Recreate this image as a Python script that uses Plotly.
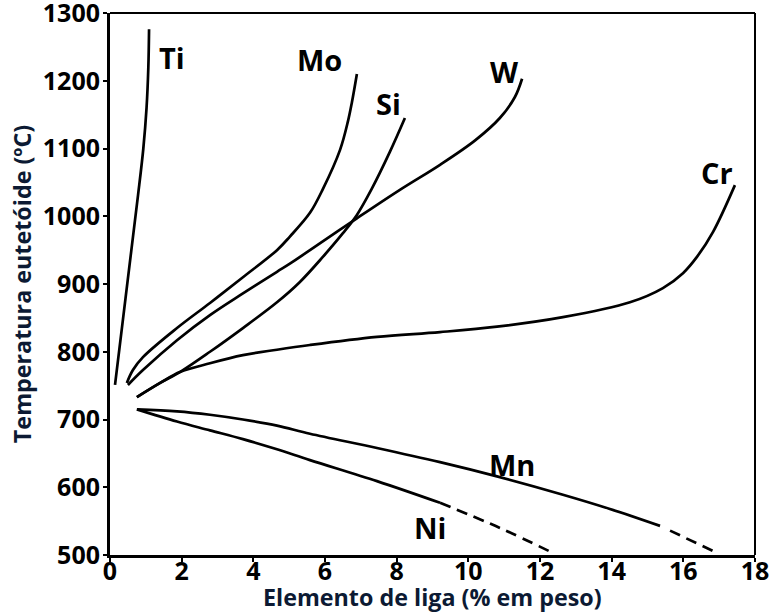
import plotly.graph_objects as go

# ---- data ----
ti_x = [0.14, 0.36, 0.58, 0.78, 0.93, 1.02, 1.07, 1.09]
ti_y = [751, 847, 943, 1030, 1100, 1160, 1220, 1276]

mo_x = [0.47, 0.64, 0.92, 1.87, 2.79, 3.71, 4.66, 5.02, 5.58, 5.94, 6.42, 6.64, 6.75, 6.89]
mo_y = [754, 773, 792, 835, 872, 910, 950, 970, 1005, 1040, 1098, 1140, 1168, 1210]

w_x = [0.50, 0.92, 1.87, 2.79, 3.71, 4.66, 5.02, 5.58, 6.89, 8.09, 9.21, 10.19, 10.88, 11.30, 11.50]
w_y = [751, 773, 817, 854, 886, 918, 930, 950, 997, 1039, 1076, 1112, 1145, 1176, 1203]

si_x = [0.75, 1.40, 1.95, 2.79, 3.71, 4.66, 5.30, 5.94, 6.50, 6.89, 7.30, 7.81, 8.23]
si_y = [733, 754, 770, 800, 835, 873, 903, 940, 975, 1002, 1040, 1095, 1145]

cr_x = [0.75, 1.40, 1.95, 2.79, 3.71, 4.66, 5.58, 7.45, 9.21, 10.80, 12.64, 14.51, 15.43, 15.99, 16.38, 16.83, 17.44]
cr_y = [733, 754, 770, 783, 795, 803, 810, 822, 829, 837, 851, 873, 894, 916, 940, 977, 1046]

mn_x = [0.75, 1.87, 2.79, 3.71, 4.66, 5.58, 7.45, 9.21, 10.80, 12.64, 13.95, 15.35]
mn_y = [715, 712, 707, 700, 691, 679, 658, 637, 616, 589, 568, 543]
mn_dash_x = [15.63, 16.94]
mn_dash_y = [536, 503]

ni_x = [0.75, 1.87, 2.79, 3.71, 4.66, 5.58, 7.45, 9.21]
ni_y = [715, 697, 684, 671, 656, 640, 609, 577]
ni_dash_x = [9.21, 10.88, 12.36]
ni_dash_y = [577, 540, 503]

labels = ["Ti", "Mo", "Si", "W", "Cr", "Mn", "Ni"]
label_x = [1.73, 5.86, 7.76, 11.02, 16.94, 11.22, 8.93]
label_y = [1235, 1231, 1167, 1213, 1064, 633, 541]

x_ticks = [0, 2, 4, 6, 8, 10, 12, 14, 16, 18]
y_ticks = [500, 600, 700, 800, 900, 1000, 1100, 1200, 1300]

x_title = "Elemento de liga (% em peso)"
y_title = "Temperatura eutetóide (ºC)"

FONT = "Open Sans"
LW = 2.7
TITLE_COLOR = "#0c1a33"
TITLE_SIZE = 23.3

fig = go.Figure()

solid = [(ti_x, ti_y), (mo_x, mo_y), (w_x, w_y), (si_x, si_y),
         (cr_x, cr_y), (mn_x, mn_y), (ni_x, ni_y)]
for xs, ys in solid:
    fig.add_trace(go.Scatter(x=xs, y=ys, mode="lines",
                             line=dict(color="black", width=LW, shape="spline", smoothing=1.0),
                             showlegend=False, hoverinfo="skip"))

for xs, ys in [(mn_dash_x, mn_dash_y), (ni_dash_x, ni_dash_y)]:
    fig.add_trace(go.Scatter(x=xs, y=ys, mode="lines",
                             line=dict(color="black", width=LW, dash="11px,7px", shape="spline"),
                             showlegend=False, hoverinfo="skip"))

for t, lx, ly in zip(labels, label_x, label_y):
    fig.add_annotation(x=lx, y=ly, text="<b>%s</b>" % t, showarrow=False,
                       font=dict(family=FONT, size=29, color="black"),
                       xanchor="center", yanchor="middle")

# x-axis title placed just below the tick labels
fig.add_annotation(x=0.5, y=-0.078, xref="paper", yref="paper",
                   text="<b>%s</b>" % x_title, showarrow=False,
                   font=dict(family=FONT, size=TITLE_SIZE, color=TITLE_COLOR),
                   xanchor="center", yanchor="middle")

# top and right frame lines
fig.add_shape(type="line", xref="paper", yref="paper", x0=0, x1=1, y0=1, y1=1,
              line=dict(color="black", width=2))
fig.add_shape(type="line", xref="paper", yref="paper", x0=1, x1=1, y0=0, y1=1,
              line=dict(color="black", width=2))

fig.update_layout(
    width=773, height=616,
    margin=dict(l=110, r=18, t=13, b=61, autoexpand=False),
    paper_bgcolor="white", plot_bgcolor="white",
    font=dict(family=FONT, color="black"),
    showlegend=False,
)

fig.update_xaxes(
    range=[0, 18], tickvals=x_ticks, ticktext=["<b>%d</b>" % v for v in x_ticks],
    tickfont=dict(family=FONT, size=25, color="black"),
    ticks="outside", ticklen=4, tickwidth=1.5, tickcolor="black",
    showline=True, linecolor="black", linewidth=3, ticklabelstandoff=-12,
    showgrid=False, zeroline=False, ticklabeloverflow="allow", automargin=False,
)
fig.update_yaxes(
    range=[500, 1300], tickvals=y_ticks, ticktext=["<b>%d</b>" % v for v in y_ticks],
    tickfont=dict(family=FONT, size=25, color="black"),
    ticks="outside", ticklen=4, tickwidth=1.5, tickcolor="black",
    showline=True, linecolor="black", linewidth=3, ticklabelstandoff=-2,
    showgrid=False, zeroline=False, ticklabeloverflow="allow", automargin=False,
    title=dict(text="<b>%s</b>" % y_title,
               font=dict(family=FONT, size=TITLE_SIZE, color=TITLE_COLOR), standoff=5),
)

fig.write_html("out.html", config={"displayModeBar": False},
               post_script="document.body.style.margin='0';")
